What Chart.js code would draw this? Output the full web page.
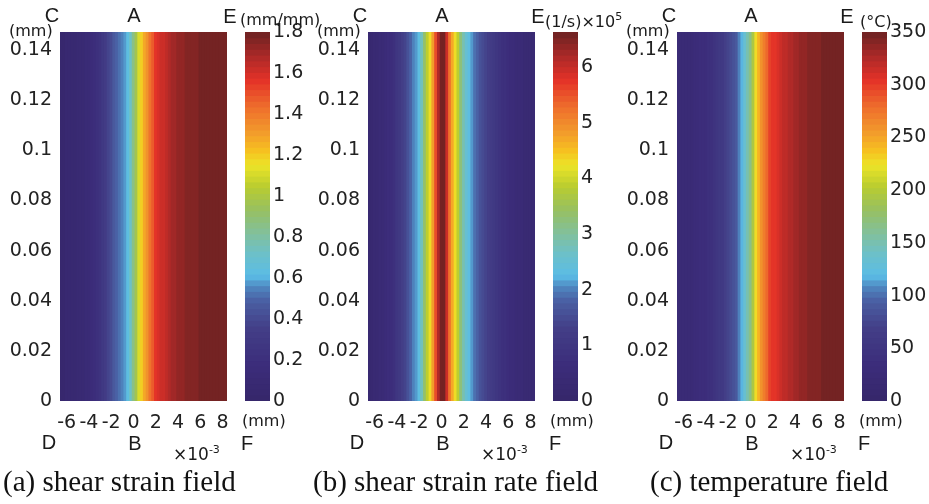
<!DOCTYPE html>
<html>
<head>
<meta charset="utf-8">
<script src="https://cdn.jsdelivr.net/npm/chart.js@4.4.0/dist/chart.umd.min.js"></script>
<style>
    body { margin: 0; background: #fff; }
    #page { position: relative; width: 929px; height: 504px; overflow: hidden; background: #fff; }
    canvas { position: absolute; top: 0; }
    .lbl { position: absolute; white-space: nowrap; line-height: 1; color: #1a1a1a; }
    .sans { font-family: "Liberation Sans", Arial, sans-serif; font-size: 20px; }
    .unit { font-family: "DejaVu Sans", sans-serif; font-size: 16px; }
    .mult { font-family: "DejaVu Sans", sans-serif; font-size: 17px; }
    .cap { font-family: "Liberation Serif", "Times New Roman", serif; font-size: 29px; color: #111; }
    .sup { font-size: 11px; vertical-align: 7px; }
</style>
</head>
<body>
<div id="page"></div>
<script>
// --- Dados ---
// centros das faixas do campo (x em 10^-3 mm)
const xCenters = [-6.475, -6.225, -5.975, -5.725, -5.475, -5.225, -4.975, -4.725, -4.475, -4.225,
    -3.975, -3.725, -3.475, -3.225, -2.975, -2.725, -2.475, -2.225, -1.975, -1.725,
    -1.475, -1.225, -0.975, -0.725, -0.475, -0.225, 0.025, 0.275, 0.525, 0.775,
    1.025, 1.275, 1.525, 1.775, 2.025, 2.275, 2.525, 2.775, 3.025, 3.275,
    3.525, 3.775, 4.025, 4.275, 4.525, 4.775, 5.025, 5.275, 5.525, 5.775,
    6.025, 6.275, 6.525, 6.775, 7.025, 7.275, 7.525, 7.775, 8.025, 8.275];

// (a) deformação cisalhante (mm/mm)
const strainVals = [0.05, 0.05, 0.06, 0.06, 0.07, 0.08, 0.09, 0.10, 0.11, 0.12,
    0.14, 0.16, 0.19, 0.22, 0.25, 0.29, 0.33, 0.37, 0.42, 0.46,
    0.49, 0.52, 0.55, 0.59, 0.64, 0.73, 0.86, 0.98, 1.10, 1.19,
    1.27, 1.34, 1.41, 1.49, 1.55, 1.59, 1.61, 1.63, 1.65, 1.67,
    1.69, 1.71, 1.72, 1.73, 1.74, 1.75, 1.76, 1.76, 1.77, 1.77,
    1.78, 1.78, 1.78, 1.79, 1.79, 1.79, 1.79, 1.80, 1.80, 1.80];

// (b) taxa de deformação (1/s, x10^5)
const rateVals = [0.28, 0.31, 0.35, 0.39, 0.43, 0.48, 0.55, 0.63, 0.72, 0.82,
    0.95, 1.10, 1.27, 1.42, 1.60, 1.80, 1.98, 2.12, 2.30, 2.75,
    3.35, 3.90, 4.35, 4.85, 5.55, 6.20, 6.55, 6.55, 6.00, 5.25,
    4.75, 4.35, 3.90, 3.25, 2.85, 2.55, 2.30, 2.15, 1.95, 1.78,
    1.62, 1.48, 1.35, 1.25, 1.15, 1.05, 0.95, 0.87, 0.80, 0.73,
    0.66, 0.60, 0.55, 0.50, 0.46, 0.43, 0.40, 0.37, 0.35, 0.33];

// (c) temperatura (°C)
const tempVals = [22, 23, 24, 25, 26, 27, 29, 31, 33, 35,
    37, 40, 43, 47, 51, 55, 60, 66, 72, 78,
    85, 92, 104, 118, 132, 148, 168, 196, 226, 244,
    258, 270, 284, 296, 302, 306, 310, 314, 318, 321,
    324, 327, 330, 333, 335, 337, 339, 340, 341, 342,
    343, 344, 345, 346, 346, 347, 347, 348, 348, 348];

// eixos
const xMin = -6.6, xMax = 8.4;
const yMax = 0.1472;
const xTicks = [-6, -4, -2, 0, 2, 4, 6, 8];
const yTicks = [0, 0.02, 0.04, 0.06, 0.08, 0.1, 0.12, 0.14];
const yTickLabels = ['0', '0.02', '0.04', '0.06', '0.08', '0.1', '0.12', '0.14'];

// barras de cor
const strainMax = 1.8, rateMax = 6.63, tempMax = 350;
const strainTicks = [0, 0.2, 0.4, 0.6, 0.8, 1, 1.2, 1.4, 1.6, 1.8];
const strainLabels = ['0', '0.2', '0.4', '0.6', '0.8', '1', '1.2', '1.4', '1.6', '1.8'];
const rateTicks = [0, 1, 2, 3, 4, 5, 6];
const rateLabels = ['0', '1', '2', '3', '4', '5', '6'];
const tempTicks = [0, 50, 100, 150, 200, 250, 300, 350];
const tempLabels = ['0', '50', '100', '150', '200', '250', '300', '350'];

// mapa de cores (tipo jet escuro)
const cmapPos = [0, 0.1, 0.2, 0.27, 0.31, 0.34, 0.4, 0.45, 0.52, 0.58, 0.64, 0.68, 0.73, 0.8, 0.87, 0.93, 1];
const cmapHex = ['#35266a', '#3c2d7b', '#433f88', '#4a5ea2', '#4f86c0', '#5bbce6', '#6cc0c8', '#80c0a0',
    '#98c060', '#b8cc30', '#ece428', '#f6c020', '#f29a2c', '#ee6c2c', '#e43228', '#b02a28', '#6c2222'];
const nLevels = 64;

const panels = [
    { ox: 0, values: strainVals, cmax: strainMax, cTicks: strainTicks, cLabels: strainLabels,
      unit: '(mm/mm)', unitX: 240, unitY: 20, caption: '(a) shear strain field', capX: 3 },
    { ox: 308, values: rateVals, cmax: rateMax, cTicks: rateTicks, cLabels: rateLabels,
      unit: '(1/s)×10<span class="sup">5</span>', unitX: 237, unitY: 20, caption: '(b) shear strain rate field', capX: 5 },
    { ox: 617, values: tempVals, cmax: tempMax, cTicks: tempTicks, cLabels: tempLabels,
      unit: '(°C)', unitX: 243, unitY: 22, caption: '(c) temperature field', capX: 33 }
];

const page = document.getElementById('page');
const tickFont = { family: '"DejaVu Sans", sans-serif', size: 19 };
const tickColor = '#222';

// --- Cores ---
function hexRgb(h) {
    return [parseInt(h.slice(1, 3), 16), parseInt(h.slice(3, 5), 16), parseInt(h.slice(5, 7), 16)];
}

function colorAt(t) {
    let i = 0;
    while (i < cmapPos.length - 2 && t > cmapPos[i + 1]) i++;
    const f = Math.min(1, Math.max(0, (t - cmapPos[i]) / (cmapPos[i + 1] - cmapPos[i])));
    const a = hexRgb(cmapHex[i]), b = hexRgb(cmapHex[i + 1]);
    const c = a.map((v, k) => Math.round(v + (b[k] - v) * f));
    return `rgb(${c[0]},${c[1]},${c[2]})`;
}

function levelColor(v, vmax) {
    const k = Math.min(nLevels - 1, Math.max(0, Math.floor(v / vmax * nLevels)));
    return colorAt((k + 0.5) / nLevels);
}

// --- Textos ---
function label(html, x, y, cls, anchor) {
    const d = document.createElement('div');
    d.className = 'lbl ' + cls;
    d.innerHTML = html;
    d.style.left = x + 'px';
    d.style.top = y + 'px';
    d.style.transform = anchor === 'c' ? 'translate(-50%, -50%)' : 'translate(0, -50%)';
    page.appendChild(d);
}

function novoCanvas(left, w, h) {
    const cv = document.createElement('canvas');
    cv.width = w; cv.height = h;
    cv.style.left = left + 'px';
    page.appendChild(cv);
    return cv;
}

// --- Graficos ---
function desenharCampo(p) {
    const cv = novoCanvas(p.ox, 240, 440);
    new Chart(cv, {
        type: 'bar',
        data: {
            datasets: [{
                data: xCenters.map(x => ({ x: x, y: yMax })),
                backgroundColor: p.values.map(v => levelColor(v, p.cmax)),
                barPercentage: 1,
                categoryPercentage: 1,
                borderWidth: 0,
                inflateAmount: 0.6
            }]
        },
        options: {
            responsive: false,
            animation: false,
            plugins: { legend: { display: false }, tooltip: { enabled: false } },
            layout: { padding: { top: 32, right: 13, left: 0, bottom: 0 } },
            scales: {
                x: {
                    type: 'linear', min: xMin, max: xMax, offset: false,
                    grid: { display: false, drawTicks: false }, border: { display: false },
                    afterFit: s => { s.height = 39; },
                    afterBuildTicks: s => { s.ticks = xTicks.map(v => ({ value: v })); },
                    ticks: { autoSkip: false, maxRotation: 0, padding: 11, font: tickFont, color: tickColor,
                             callback: v => String(v) }
                },
                y: {
                    type: 'linear', min: 0, max: yMax,
                    grid: { display: false, drawTicks: false }, border: { display: false },
                    afterFit: s => { s.width = 60; },
                    afterBuildTicks: s => { s.ticks = yTicks.map(v => ({ value: v })); },
                    ticks: { autoSkip: false, padding: 8, font: tickFont, color: tickColor,
                             callback: (v, i) => yTickLabels[i] }
                }
            }
        }
    });
}

function desenharBarra(p) {
    const cv = novoCanvas(p.ox + 245, 75, 440);
    const niveis = Array.from({ length: nLevels }, (_, k) => k);
    new Chart(cv, {
        type: 'bar',
        data: {
            datasets: [{
                data: niveis.map(k => ({ y: (k + 0.5) * p.cmax / nLevels, x: 1 })),
                backgroundColor: niveis.map(k => colorAt((k + 0.5) / nLevels)),
                barPercentage: 1,
                categoryPercentage: 1,
                borderWidth: 0,
                inflateAmount: 0.5
            }]
        },
        options: {
            indexAxis: 'y',
            responsive: false,
            animation: false,
            plugins: { legend: { display: false }, tooltip: { enabled: false } },
            layout: { padding: { top: 32, right: 0, left: 0, bottom: 39 } },
            scales: {
                x: { type: 'linear', display: false, min: 0, max: 1 },
                y: {
                    type: 'linear', position: 'right', min: 0, max: p.cmax, offset: false,
                    grid: { display: false, drawTicks: false }, border: { display: false },
                    afterFit: s => { s.width = 50; },
                    afterBuildTicks: s => { s.ticks = p.cTicks.map(v => ({ value: v })); },
                    ticks: { autoSkip: false, padding: 3, font: tickFont, color: tickColor,
                             callback: (v, i) => p.cLabels[i] }
                }
            }
        }
    });
}

panels.forEach(p => {
    desenharCampo(p);
    desenharBarra(p);

    const o = p.ox;
    label('C', o + 52, 15, 'sans', 'c');
    label('A', o + 134, 15, 'sans', 'c');
    label('E', o + 230, 16, 'sans', 'c');
    label('(mm)', o + 9, 31, 'unit', 'l');
    label(p.unit, o + p.unitX, p.unitY, 'unit', 'l');

    label('D', o + 49, 442, 'sans', 'c');
    label('B', o + 135, 443, 'sans', 'c');
    label('F', o + 247, 443, 'sans', 'c');
    label('(mm)', o + 242, 421, 'unit', 'l');
    label('×10<span class="sup">-3</span>', o + 173, 453, 'mult', 'l');

    label(p.caption, o + p.capX, 481, 'cap', 'l');
});
</script>
</body>
</html>
